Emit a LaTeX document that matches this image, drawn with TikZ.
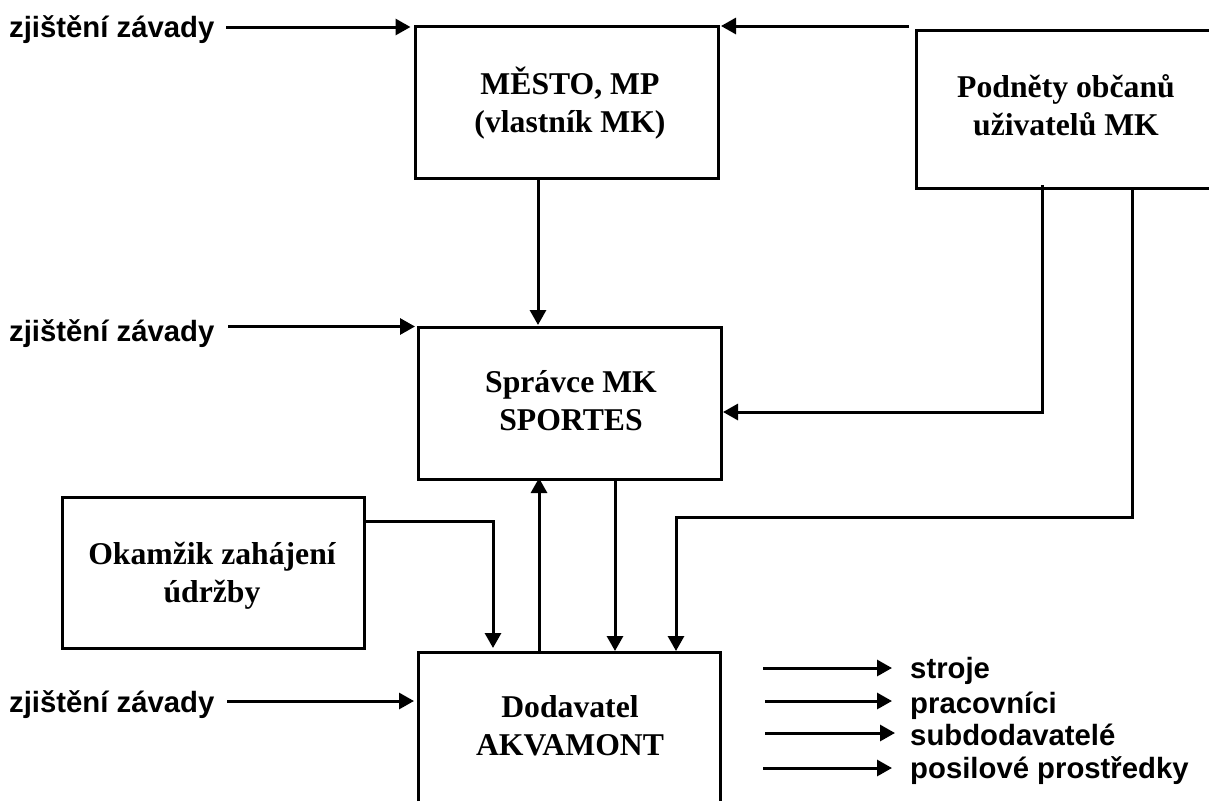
\documentclass[tikz,border=0pt]{standalone}
\usepackage{fontspec}
\setmainfont{Liberation Serif}
\newfontfamily\lblfont{Liberation Sans}
\usetikzlibrary{arrows.meta}
\tikzset{
 x=1pt,y=-1pt,
 boxstyle/.style={draw=black,line width=3pt,fill=white,anchor=north west,inner sep=0pt,outer sep=0pt},
 edgeline/.style={draw=black,line width=3pt},
 boxtxt/.style={font=\fontsize{31.7}{38}\selectfont\bfseries,align=center,text=black},
 lbl/.style={font=\fontsize{29.3}{34}\selectfont\lblfont\bfseries,anchor=base west,inner sep=0pt,text=black},
 conn/.style={draw=black,line width=3pt,-{Triangle[length=15pt,width=16pt]}},
}
\begin{document}
\begin{tikzpicture}
\useasboundingbox (0,0) rectangle (1209,801);
\node[boxstyle,minimum width=303pt,minimum height=152pt] (mesto) at (415.5,26) {};
\node[boxstyle,minimum width=303pt,minimum height=152pt] (spravce) at (418,327) {};
\node[boxstyle,minimum width=302pt,minimum height=151pt] (okamzik) at (62,497) {};
\coordinate (pA) at (1209,30); \coordinate (pB) at (916,30);
\coordinate (pC) at (916,188); \coordinate (pD) at (1209,188);
\draw[edgeline] (pA) -- (pB) -- (pC) -- (pD);
\coordinate (dA) at (418,652); \coordinate (dB) at (720,652);
\coordinate (dC) at (418,801); \coordinate (dD) at (720,801);
\draw[edgeline] (dC) -- (dA) -- (dB) -- (dD);
\node[boxtxt] (tm) at (570,105.4) {\strut MĚSTO, MP\\\strut (vlastník MK)};
\node[boxtxt] (tp) at (1066,108.4) {\strut Podněty občanů\\\strut uživatelů MK};
\node[boxtxt] (ts) at (571,403.9) {\strut Správce MK\\\strut SPORTES};
\node[boxtxt] (to) at (212,575.4) {\strut Okamžik zahájení\\\strut údržby};
\node[boxtxt] (td) at (570,728.9) {\strut Dodavatel\\\strut AKVAMONT};
\node[lbl] (z1) at (9,37) {zjištění závady};
\node[lbl] (z2) at (9,341) {zjištění závady};
\node[lbl] (z3) at (9,712) {zjištění závady};
\node[lbl] (s1) at (910,678) {stroje};
\node[lbl] (s2) at (910,713) {pracovníci};
\node[lbl] (s3) at (910,745) {subdodavatelé};
\node[lbl] (s4) at (910,778) {posilové prostředky};
\coordinate (a1) at (226,27); \coordinate (a2) at (228,326.5); \coordinate (a3) at (227,701);
\coordinate (b3) at (414,701);
\draw[conn,shorten >=5pt] (a1) -- (mesto.west |- a1);
\draw[conn,shorten >=3pt] (a2) -- (spravce.west |- a2);
\draw[conn] (a3) -- (b3);
\coordinate (p0) at (909,26);
\draw[conn,shorten >=2.5pt] (p0) -- (mesto.east |- p0);
\coordinate (m0) at (538,180);
\draw[conn,shorten >=2pt] (m0) -- (spravce.north -| m0);
\coordinate (q0) at (1042,185); \coordinate (q1) at (1042,412);
\draw[conn,shorten >=2pt] (q0) -- (q1) -- (spravce.east |- q1);
\coordinate (r0) at (1132,188); \coordinate (r1) at (1132,517); \coordinate (r2) at (676,517); \coordinate (r3) at (676,651);
\draw[conn] (r0) -- (r1) -- (r2) -- (r3);
\coordinate (o1) at (493,521); \coordinate (o2) at (493,648);
\draw[conn] (okamzik.east |- o1) -- (o1) -- (o2);
\coordinate (u0) at (539,652);
\draw[conn,shorten >=-1pt] (u0) -- (spravce.south -| u0);
\coordinate (v1) at (615,651);
\draw[conn] (spravce.south -| v1) -- (v1);
\coordinate (e1) at (763,668); \coordinate (f1) at (892,668);
\coordinate (e2) at (765,701); \coordinate (f2) at (892,701);
\coordinate (e3) at (765,733); \coordinate (f3) at (895,733);
\coordinate (e4) at (763,768); \coordinate (f4) at (892,768);
\draw[conn] (e1) -- (f1);
\draw[conn] (e2) -- (f2);
\draw[conn] (e3) -- (f3);
\draw[conn] (e4) -- (f4);
\end{tikzpicture}
\end{document}
